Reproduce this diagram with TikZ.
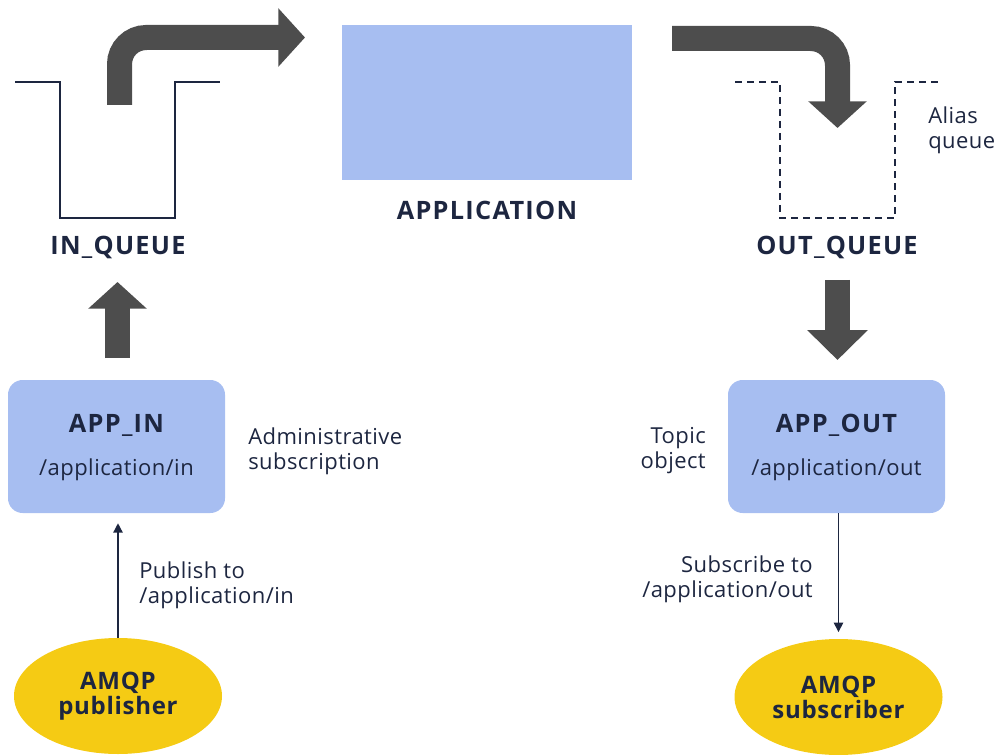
\documentclass[tikz,border=0pt]{standalone}
\usepackage{fontspec}
\setmainfont{Open Sans}
\usetikzlibrary{arrows.meta,shapes.geometric}
\definecolor{txt}{HTML}{1D2640}
\definecolor{boxblue}{HTML}{A7BEF1}
\definecolor{bigarrow}{HTML}{4D4D4D}
\definecolor{amqp}{HTML}{F5CB14}
\newfontfamily\regfont[LetterSpace=2]{Open Sans}
\newfontfamily\lblfont[LetterSpace=5]{Open Sans Bold}
\newfontfamily\cliefont[LetterSpace=3]{Open Sans Bold}
\tikzset{
  reg/.style={text=txt,font=\regfont\fontsize{16.5}{18.75}\selectfont,inner sep=0pt},
  lbl/.style={text=txt,font=\lblfont\fontsize{19}{18.75}\selectfont,inner sep=0pt},
  topicbox/.style={fill=boxblue,rounded corners=11pt,minimum width=162.75pt,minimum height=99.75pt,inner sep=0pt},
  client/.style={ellipse,fill=amqp,minimum width=156pt,minimum height=87pt,inner sep=0pt,text=txt,font=\cliefont\fontsize{18}{18.75}\selectfont,align=center},
  fat/.style={draw=bigarrow,line width=18.75pt,-{Triangle[length=20pt 0 0,width=42.75pt 0 0]}},
  queue/.style={draw=txt,line width=1.5pt},
  thin/.style={draw=txt,line width=1pt,-{Triangle[length=7pt 0 0,width=7pt 0 0]}}
}
\begin{document}
\begin{tikzpicture}[x=0.75pt,y=-0.75pt]
\useasboundingbox (0,0) rectangle (998,755);
% in queue
\draw[queue] (15,82) -- (60,82) -- (60,218) -- (175,218) -- (175,82) -- (220,82);
\node[lbl] (inqlbl) at (118,247) {IN\_QUEUE};
% out queue (alias, dashed)
\draw[queue,dash pattern=on 5.25pt off 3.75pt] (735,82) -- (780,82) -- (780,218) -- (895,218) -- (895,82) -- (942,82);
\node[lbl] (outqlbl) at (837,247) {OUT\_QUEUE};
\node[reg,anchor=west,align=left] (alias) at (928,130) {Alias\\queue};
% application
\node[fill=boxblue,minimum width=217.5pt,minimum height=116.25pt,inner sep=0pt] (app) at (487,102.5) {};
\node[lbl] (applbl) at (487,210) {APPLICATION};
% coordinates of big arrows
\coordinate (inqout) at (119.5,105);
\coordinate (appin) at (305,37.5);
\coordinate (appout) at (672,38.5);
\coordinate (outqin) at (837.5,128);
\draw[fat,rounded corners=20pt] (inqout) -- (119.5,37.5) -- (appin);
\draw[fat,rounded corners=20pt] (appout) -- (837.5,38.5) -- (outqin);
% topic boxes
\node[topicbox] (appinbox) at (116.5,446.5) {};
\node[lbl] at (116.5,425) {APP\_IN};
\node[reg] at (116.5,470) {/application/in};
\node[topicbox] (appoutbox) at (836.5,446.5) {};
\node[lbl] at (836.5,425) {APP\_OUT};
\node[reg] at (836.5,470) {/application/out};
\node[reg,anchor=west,align=left] (admin) at (248,451) {Administrative\\subscription};
\node[reg,anchor=east,align=right] (topic) at (706,451) {Topic\\object};
% vertical big arrows
\coordinate (subtop) at (117.5,358);
\coordinate (inqbot) at (117.5,282);
\draw[fat] (subtop) -- (inqbot);
\coordinate (outqbot) at (837.5,280);
\coordinate (subtop2) at (837.5,360);
\draw[fat,-{Triangle[length=22.5pt 0 0,width=44.25pt 0 0]}] (outqbot) -- (subtop2);
% clients
\node[client] (pub) at (118,696) {AMQP\\publisher};
\node[client] (sub) at (838.5,697) {AMQP\\subscriber};
\draw[thin,shorten >=7.5pt] (pub.north) -- (pub.north |- appinbox.south);
\draw[thin,shorten >=5pt] (sub.north |- appoutbox.south) -- (sub.north);
\node[reg,anchor=west,align=left] (publbl) at (139,585) {Publish to\\/application/in};
\node[reg,anchor=east,align=right] (sublbl) at (813,579) {Subscribe to\\/application/out};
\end{tikzpicture}
\end{document}
